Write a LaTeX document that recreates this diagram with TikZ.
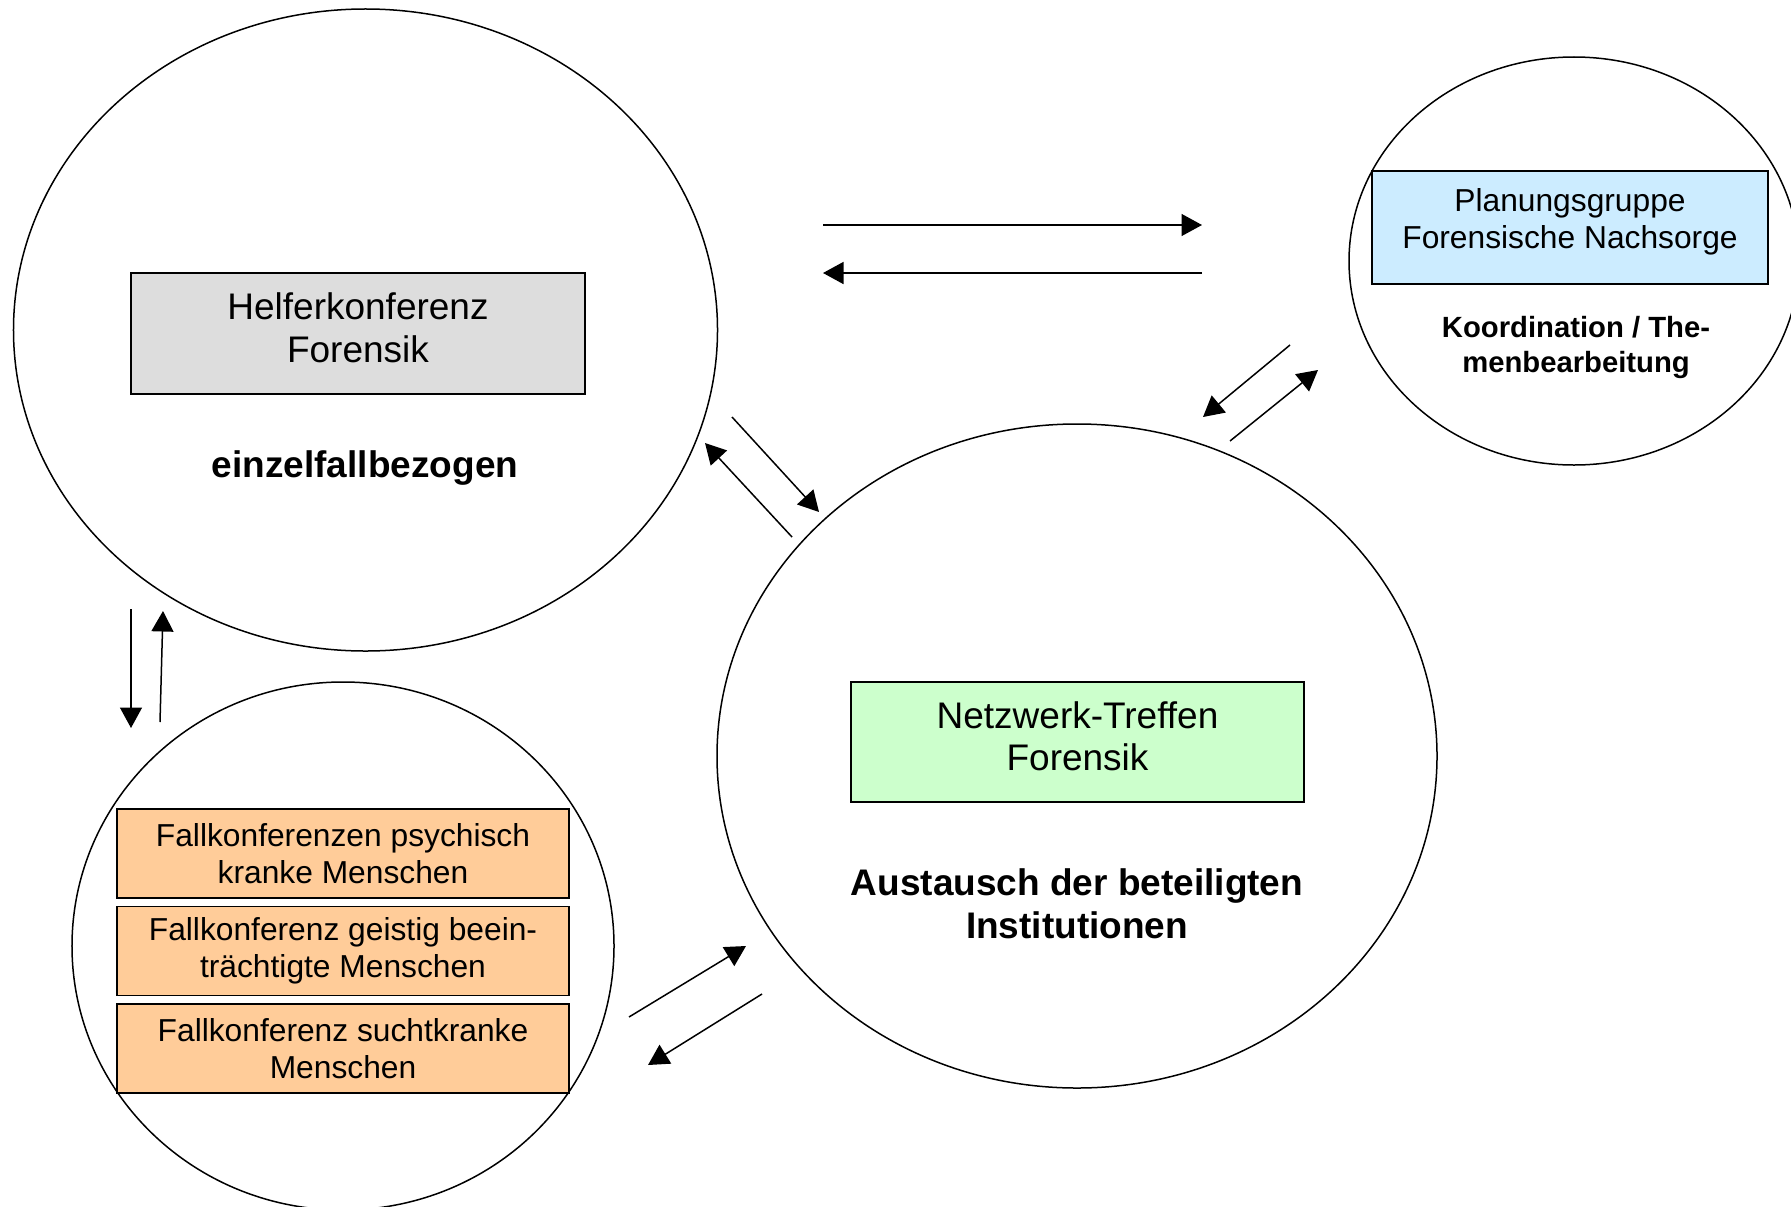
\documentclass[tikz,border=0pt]{standalone}
\usepackage{fontspec}
\setmainfont{Liberation Sans}
\usetikzlibrary{arrows.meta, positioning, shapes.geometric}
\definecolor{helfergrau}{HTML}{DDDDDD}
\definecolor{planblau}{HTML}{CCECFF}
\definecolor{netzgruen}{HTML}{CCFFCC}
\definecolor{fallorange}{HTML}{FFCC99}

\begin{document}
\begin{tikzpicture}[x=0.4pt,y=-0.4pt,>={Triangle[length=8.2pt,width=8.8pt]},
        kreis/.style={draw,ellipse,line width=0.6pt,inner sep=0pt},
        kasten/.style={draw,line width=0.6pt,align=center,inner sep=0pt},
        pfeil/.style={->,line width=0.6pt},
        gross/.style={font=\fontsize{14.8}{17}\selectfont},
        klein/.style={font=\fontsize{12.7}{14.6}\selectfont},
        fett/.style={align=center,font=\fontsize{14.8}{17}\selectfont\bfseries}]

    \useasboundingbox (0,0) rectangle (1791,1206);

    % Kreise
    \node[kreis,minimum width=281.6pt,minimum height=256.8pt] (helferkreis) at (365.5,330) {};
    \node[kreis,minimum width=180pt,minimum height=163.2pt]   (plankreis)   at (1574,261)  {};
    \node[kreis,minimum width=216.8pt,minimum height=211.2pt] (fallkreis)   at (343,946)   {};
    \node[kreis,minimum width=288pt,minimum height=265.6pt]   (netzkreis)   at (1077,756)  {};

    % Kaesten
    \node[kasten,gross,fill=helfergrau,minimum width=181.6pt,minimum height=48.4pt,text depth=4.8pt] (helferbox) at (358,333.5)
        {Helferkonferenz\\Forensik};
    \node[kasten,klein,fill=planblau,minimum width=158.4pt,minimum height=45.2pt,text depth=7.2pt] (planbox) at (1570,227.5)
        {Planungsgruppe\\Forensische Nachsorge};
    \node[kasten,gross,fill=netzgruen,minimum width=181.2pt,minimum height=48pt,text depth=4.8pt] (netzbox) at (1077.5,742)
        {Netzwerk-Treffen\\Forensik};
    \node[kasten,klein,fill=fallorange,minimum width=180.8pt,minimum height=35.6pt] (fall1) at (343,853.5)
        {Fallkonferenzen psychisch\\kranke Menschen};
    \node[kasten,klein,fill=fallorange,minimum width=180.8pt,minimum height=35.6pt] (fall2) [below=2.8pt of fall1]
        {Fallkonferenz geistig beein-\\trächtigte Menschen};
    \node[kasten,klein,fill=fallorange,minimum width=180.8pt,minimum height=35.6pt] (fall3) [below=2.8pt of fall2]
        {Fallkonferenz suchtkranke\\Menschen};

    % Beschriftungen
    \node[fett] (einzel) at (365,468.5) {einzelfallbezogen};
    \node[fett,font=\fontsize{11.7}{13.7}\selectfont\bfseries] (koord) at (1576,347.5)
        {Koordination / The-\\menbearbeitung};
    \node[fett] (austausch) at (1077,904) {Austausch der beteiligten\\Institutionen};

    % Pfeilenden
    \coordinate (h1) at (823,225);   \coordinate (p1) at (1202,225);
    \coordinate (p2) at (1202,273);  \coordinate (h2) at (823,273);
    \coordinate (h3) at (732,417);   \coordinate (n3) at (819,512);
    \coordinate (n4) at (792,537);   \coordinate (h4) at (705,443);
    \coordinate (p5) at (1290,345);  \coordinate (n5) at (1203,417);
    \coordinate (n6) at (1230,441);  \coordinate (p6) at (1318,370);
    \coordinate (h7) at (131,609);   \coordinate (f7) at (131,728);
    \coordinate (f8) at (160,722);   \coordinate (h8) at (163,611);
    \coordinate (f9) at (629,1017);  \coordinate (n9) at (746,946);
    \coordinate (n10) at (762,994);  \coordinate (f10) at (648,1065);

    \draw[pfeil] (h1) -- (p1);
    \draw[pfeil] (p2) -- (h2);
    \draw[pfeil] (h3) -- (n3);
    \draw[pfeil] (n4) -- (h4);
    \draw[pfeil] (p5) -- (n5);
    \draw[pfeil] (n6) -- (p6);
    \draw[pfeil] (h7) -- (f7);
    \draw[pfeil] (f8) -- (h8);
    \draw[pfeil] (f9) -- (n9);
    \draw[pfeil] (n10) -- (f10);
\end{tikzpicture}
\end{document}
